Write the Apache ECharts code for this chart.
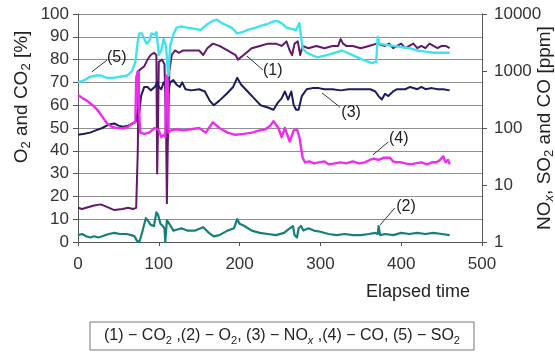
<!DOCTYPE html>
<html><head><meta charset="utf-8">
<script src="https://cdn.jsdelivr.net/npm/echarts@6/dist/echarts.min.js"></script>
<style>html,body{margin:0;padding:0;background:#fff}#c{width:555px;height:354px}</style>
</head><body><div id="c"></div>
<script>
// ---- data: [elapsed time, value] ----
const co2Pct = [[0,15],[5,14.5],[10,15],[20,16],[28,16.5],[35,15.5],[45,14],[55,14.5],[62,15],[68,14.5],[72,15],[74,40],[75,75],[78,76],[82,77],[86,80],[90,82],[94,83],[97,82],[98,30],[99,50],[100,79],[104,80],[107,78],[109,50],[110,17],[111,40],[113,75],[116,82],[120,84],[125,83],[130,84],[140,84],[150,84],[155,82],[160,85],[167,87],[175,86],[185,84],[195,82],[198,80],[205,82],[215,85],[225,86],[235,87],[245,87],[252,86],[258,88],[262,84],[265,82],[268,87],[272,88],[275,82],[278,86],[285,85],[295,86],[305,85],[315,86],[322,86],[325,89],[328,87],[332,86],[340,86],[350,85],[360,86],[370,87],[380,86],[385,87],[390,85],[395,86],[400,87],[405,85],[410,86],[415,87],[420,85],[425,86],[430,85],[435,87],[440,86],[445,85],[450,86],[455,86],[460,85]];
const o2Pct = [[0,3],[5,3.5],[10,2.5],[15,2],[20,2.5],[25,2],[30,2.5],[38,3.5],[45,4],[52,3.5],[60,3.5],[66,3],[70,2.5],[73,0.5],[76,0],[80,5],[84,10.5],[87,9],[90,7.5],[94,7],[97,13],[99,12],[102,8],[105,7],[107,6],[108,0],[110,9.5],[113,8],[118,5],[123,5.5],[128,6],[135,5],[145,5],[155,6.5],[162,4],[168,2.5],[175,3],[185,5],[193,6],[197,10],[200,8],[206,7],[215,5],[225,4],[235,3.5],[245,3],[255,4],[262,6],[266,7],[268,3],[271,2],[273,6],[276,7],[279,5],[285,6],[292,5],[300,4.5],[310,3.5],[320,3],[330,3.5],[340,3],[350,3],[360,3.5],[368,4],[371,3.5],[372,7],[374,3],[380,3.5],[390,3],[400,4],[410,3.5],[420,4],[430,3.5],[440,4],[450,3.5],[460,3]];
const noxPpm = [[0,76],[8,79],[15,83],[22,91],[30,100],[38,115],[45,120],[50,110],[56,105],[62,110],[68,120],[72,132],[74,209],[76,191],[78,363],[82,525],[86,525],[90,457],[95,525],[98,631],[100,525],[103,479],[106,631],[108,575],[110,398],[112,437],[114,631],[118,692],[122,575],[126,525],[129,631],[133,479],[140,457],[150,479],[157,437],[163,302],[168,251],[175,302],[184,398],[192,525],[197,759],[202,575],[210,437],[218,331],[226,251],[235,229],[242,209],[247,275],[252,331],[256,437],[260,316],[264,437],[267,251],[270,209],[273,209],[277,363],[283,479],[290,501],[298,501],[305,479],[315,479],[325,457],[335,479],[345,479],[355,479],[362,479],[368,437],[372,363],[376,316],[380,398],[384,363],[390,437],[395,479],[405,479],[411,525],[420,479],[425,525],[430,479],[438,501],[445,479],[452,479],[460,457]];
const coPpm = [[0,380],[6,331],[11,302],[18,251],[24,209],[30,158],[36,120],[42,105],[48,100],[56,98],[62,105],[67,120],[71,126],[72,759],[74,1000],[75,832],[76,158],[77,83],[82,79],[88,83],[95,100],[100,91],[103,69],[106,76],[108,69],[109,759],[110,832],[111,631],[112,83],[115,91],[122,95],[130,91],[140,95],[150,100],[158,83],[167,126],[175,100],[185,83],[195,76],[205,79],[215,83],[225,91],[232,95],[238,110],[242,132],[248,100],[252,69],[256,100],[262,58],[267,91],[271,95],[274,69],[276,69],[278,30],[281,25],[286,26],[292,24],[298,25],[305,26],[310,23],[318,24],[325,25],[332,24],[340,26],[348,24],[355,25],[361,27.5],[366,29],[372,27.5],[378,30],[386,30],[390,26],[394,25],[400,25],[405,24],[411,23],[418,24],[425,25],[432,23],[438,25],[444,25],[448,27.5],[452,32],[455,25],[458,27.5],[460,23]];
const so2Ppm = [[0,631],[8,692],[15,794],[22,832],[28,832],[36,759],[44,759],[52,794],[61,832],[67,1000],[71,1445],[74,3311],[76,4571],[79,4571],[82,3631],[85,3020],[88,3311],[91,4571],[95,4365],[97,4786],[99,2754],[100,1905],[103,2291],[106,3631],[109,2754],[111,1000],[112,832],[114,2754],[118,4365],[122,5754],[128,6026],[135,5754],[145,5495],[152,5248],[160,6607],[167,7586],[172,7943],[178,6918],[184,6310],[190,5754],[197,4571],[203,4786],[210,5248],[220,5754],[228,6310],[234,6607],[240,7244],[246,7586],[252,6918],[258,5754],[264,5495],[270,5248],[274,6918],[276,3981],[278,2512],[283,2089],[296,1738],[308,1905],[318,2089],[327,2291],[340,1905],[352,1585],[364,1380],[369,1445],[371,3981],[373,3020],[380,2884],[390,2754],[400,2630],[410,2512],[420,2291],[430,2188],[440,2089],[450,2089],[460,2089]];

const xTicks = [0,100,200,300,400,500];
const leftTicks = [0,10,20,30,40,50,60,70,80,90,100];
const rightTicks = [1,10,100,1000,10000];
const seriesNames = ['CO2','O2','NOx','CO','SO2'];
// annotation labels: [text, leader start (t, %), leader end (t, %), label centre (t, %)]
const notes = [
  ['(5)', [17,74.6], [36,79.8], [48,80.7]],
  ['(1)', [209,81.6], [229,75.4], [241,75]],
  ['(3)', [302,65.4], [324,59.2], [338,56.6]],
  ['(4)', [365,38.2], [384,43.9], [397,45.2]],
  ['(2)', [374,7.5], [392,14.9], [406,15.4]]
];
// rich-text strings: {s|..} = subscript, {si|..} = italic subscript
const legendText = '(1) − CO{s|2} ,(2) − O{s|2}, (3) − NO{si|x} ,(4) − CO, (5) − SO{s|2}';
const xName = 'Elapsed time';
const leftName = 'O{s|2} and CO{s|2} [%]';
const rightName = 'NO{si|x}, SO{s|2} and CO [ppm]';

const FONT = '"Liberation Sans", Arial, Helvetica, sans-serif';
const chart = echarts.init(document.getElementById('c'), null, {renderer: 'canvas'});
const colors = ['#62196a', '#15807a', '#1d1b60', '#ee2cee', '#3fe3f0'];
const widths = [2, 2.2, 2, 2.4, 2.4];
const datas = [co2Pct, o2Pct, noxPpm, coPpm, so2Ppm];
const axisIdx = [0, 0, 1, 1, 1];

const series = datas.map((d, i) => ({
  name: seriesNames[i], type: 'line', data: d, yAxisIndex: axisIdx[i],
  showSymbol: false, symbol: 'none', silent: true,
  lineStyle: {color: colors[i], width: widths[i], join: 'round'},
  itemStyle: {color: colors[i]}, z: 2 + i
}));

chart.setOption({
  animation: false,
  grid: {left: 78, right: 73, top: 14, bottom: 112},
  xAxis: {
    type: 'value', min: xTicks[0], max: xTicks[xTicks.length - 1], interval: 100,
    axisLine: {lineStyle: {color: '#555', width: 1}},
    axisTick: {show: true, length: 4, lineStyle: {color: '#555'}},
    axisLabel: {fontSize: 17, color: '#333', margin: 14, fontFamily: FONT},
    splitLine: {show: false}
  },
  yAxis: [{
    type: 'value', min: leftTicks[0], max: leftTicks[leftTicks.length - 1], interval: 10, position: 'left',
    axisLine: {show: true, lineStyle: {color: '#555', width: 1}},
    axisTick: {show: true, length: 5, lineStyle: {color: '#555'}},
    axisLabel: {fontSize: 17, color: '#333', margin: 9, fontFamily: FONT},
    splitLine: {show: true, lineStyle: {color: '#8f8f8f', width: 1}}
  }, {
    type: 'log', logBase: 10, min: rightTicks[0], max: rightTicks[rightTicks.length - 1], position: 'right',
    axisLine: {show: true, lineStyle: {color: '#555', width: 1}},
    axisTick: {show: true, length: 5, lineStyle: {color: '#555'}},
    axisLabel: {fontSize: 17, color: '#333', margin: 12, fontFamily: FONT,
      formatter: v => String(Math.round(v))},
    splitLine: {show: false}
  }],
  series: series
});

function richFor(size) {
  return {
    s: {fontSize: Math.round(size * 0.68), fontFamily: FONT, fill: '#222', verticalAlign: 'bottom', lineHeight: Math.round(size * 0.45)},
    si: {fontSize: Math.round(size * 0.68), fontFamily: FONT, fontStyle: 'italic', fill: '#222', verticalAlign: 'bottom', lineHeight: Math.round(size * 0.45)}
  };
}

const px = p => chart.convertToPixel({xAxisIndex: 0, yAxisIndex: 0}, p);
const graphics = [];
notes.forEach(n => {
  const a = px(n[1]), b = px(n[2]), c = px(n[3]);
  graphics.push({type: 'line', shape: {x1: a[0], y1: a[1], x2: b[0], y2: b[1]},
    style: {stroke: '#333', lineWidth: 1}, z: 20});
  graphics.push({type: 'text', x: c[0], y: c[1], z: 20,
    style: {text: n[0], fontSize: 16, fontFamily: FONT, fill: '#222', align: 'center', verticalAlign: 'middle'}});
});
graphics.push({type: 'text', x: 418, y: 292, style: {text: xName, fontSize: 18, fontFamily: FONT, fill: '#222', align: 'center', verticalAlign: 'middle'}});
graphics.push({type: 'text', x: 22, y: 97, rotation: Math.PI / 2, style: {text: leftName, fontSize: 19, lineHeight: 22, fontFamily: FONT, fill: '#222', align: 'center', verticalAlign: 'middle', rich: richFor(19)}});
graphics.push({type: 'text', x: 545, y: 128, rotation: Math.PI / 2, style: {text: rightName, fontSize: 19, lineHeight: 22, fontFamily: FONT, fill: '#222', align: 'center', verticalAlign: 'middle', rich: richFor(19)}});
graphics.push({type: 'rect', shape: {x: 90, y: 322, width: 384, height: 28}, style: {fill: '#fff', stroke: '#777', lineWidth: 1}});
graphics.push({type: 'text', x: 282, y: 336, z: 5, style: {text: legendText, fontSize: 16, lineHeight: 20, fontFamily: FONT, fill: '#222', align: 'center', verticalAlign: 'middle', rich: richFor(16)}});
chart.setOption({graphic: graphics});
</script></body></html>
